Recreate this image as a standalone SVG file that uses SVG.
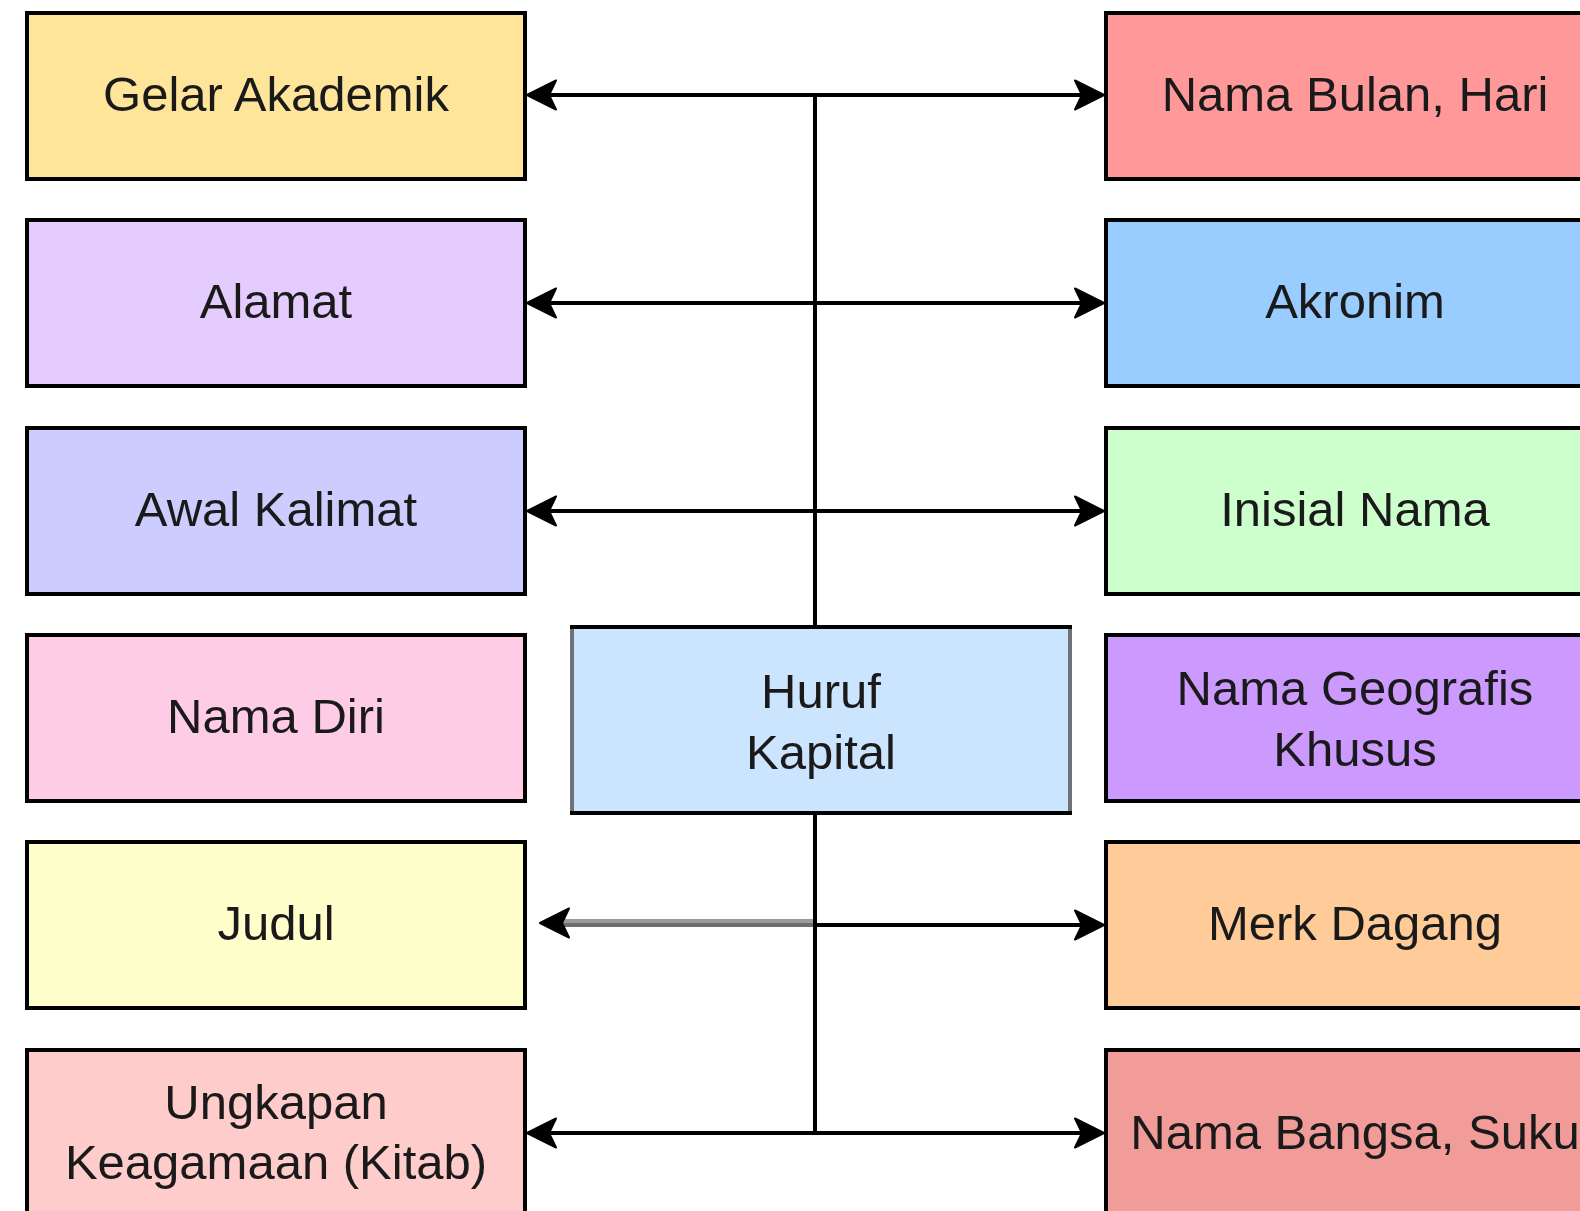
<svg xmlns="http://www.w3.org/2000/svg" width="1580" height="1211" viewBox="0 0 1580 1211">
<style>
.box{stroke:#000;stroke-width:4}
.t{font-family:"Liberation Sans",Arial,Helvetica,sans-serif;font-size:49px;fill:#1a1a1a;text-anchor:middle}
.ln{fill:none;stroke:#000;stroke-width:4}
</style>
<defs>
<marker id="arr" markerUnits="userSpaceOnUse" markerWidth="40" markerHeight="40" refX="0" refY="0" orient="auto" overflow="visible">
<path d="M22,0 L-7,-14.5 L0,0 L-7,14.5 Z" fill="#000" stroke="#000" stroke-width="2" stroke-linejoin="round"/>
</marker>
</defs>
<rect width="1580" height="1211" fill="#fff"/>
<g id="connectors">
<path class="ln" d="M815,95 V627"/>
<path class="ln" d="M815,813 V1133"/>
<path class="ln" d="M815,95 H549" marker-end="url(#arr)"/>
<path class="ln" d="M815,95 H1082" marker-end="url(#arr)"/>
<path class="ln" d="M815,303 H549" marker-end="url(#arr)"/>
<path class="ln" d="M815,303 H1082" marker-end="url(#arr)"/>
<path class="ln" d="M815,511 H549" marker-end="url(#arr)"/>
<path class="ln" d="M815,511 H1082" marker-end="url(#arr)"/>
<path d="M813,921 H562" fill="none" stroke="#9a9a9a" stroke-width="4"/>
<path d="M813,925 H562" fill="none" stroke="#6e6e6e" stroke-width="4"/>
<path d="M575,923 H562" fill="none" stroke="none" marker-end="url(#arr)"/>
<path class="ln" d="M815,925 H1082" marker-end="url(#arr)"/>
<path class="ln" d="M815,1133 H549" marker-end="url(#arr)"/>
<path class="ln" d="M815,1133 H1082" marker-end="url(#arr)"/>
</g>
<g id="gelar"><rect class="box" x="27" y="13" width="498" height="166" fill="#ffe599"/><text class="t" x="276" y="111">Gelar Akademik</text></g>
<g id="alamat"><rect class="box" x="27" y="220" width="498" height="166" fill="#e5ccff"/><text class="t" x="276" y="318">Alamat</text></g>
<g id="awal"><rect class="box" x="27" y="428" width="498" height="166" fill="#ccccff"/><text class="t" x="276" y="526">Awal Kalimat</text></g>
<g id="namadiri"><rect class="box" x="27" y="635" width="498" height="166" fill="#ffcce6"/><text class="t" x="276" y="733">Nama Diri</text></g>
<g id="judul"><rect class="box" x="27" y="842" width="498" height="166" fill="#ffffcc"/><text class="t" x="276" y="940">Judul</text></g>
<g id="ungkapan"><rect class="box" x="27" y="1050" width="498" height="166" fill="#ffcccc"/><text class="t" x="276" y="1119">Ungkapan</text><text class="t" x="276" y="1179">Keagamaan (Kitab)</text></g>
<g id="bulan"><rect class="box" x="1106" y="13" width="498" height="166" fill="#ff9999"/><text class="t" x="1355" y="111">Nama Bulan, Hari</text></g>
<g id="akronim"><rect class="box" x="1106" y="220" width="498" height="166" fill="#99ccff"/><text class="t" x="1355" y="318">Akronim</text></g>
<g id="inisial"><rect class="box" x="1106" y="428" width="498" height="166" fill="#ccffcc"/><text class="t" x="1355" y="526">Inisial Nama</text></g>
<g id="geografis"><rect class="box" x="1106" y="635" width="498" height="166" fill="#cc99ff"/><text class="t" x="1355" y="705">Nama Geografis</text><text class="t" x="1355" y="766">Khusus</text></g>
<g id="merk"><rect class="box" x="1106" y="842" width="498" height="166" fill="#ffcc99"/><text class="t" x="1355" y="940">Merk Dagang</text></g>
<g id="bangsa"><rect class="box" x="1106" y="1050" width="498" height="166" fill="#f19c99"/><text class="t" x="1355" y="1149">Nama Bangsa, Suku</text></g>
<g id="huruf"><rect x="572" y="627" width="498" height="186" fill="#cce5ff" stroke="#6f7378" stroke-width="4"/><path d="M570,627 H1072 M570,813 H1072" stroke="#000" stroke-width="4"/><text class="t" x="821" y="708">Huruf</text><text class="t" x="821" y="769">Kapital</text></g>
</svg>
